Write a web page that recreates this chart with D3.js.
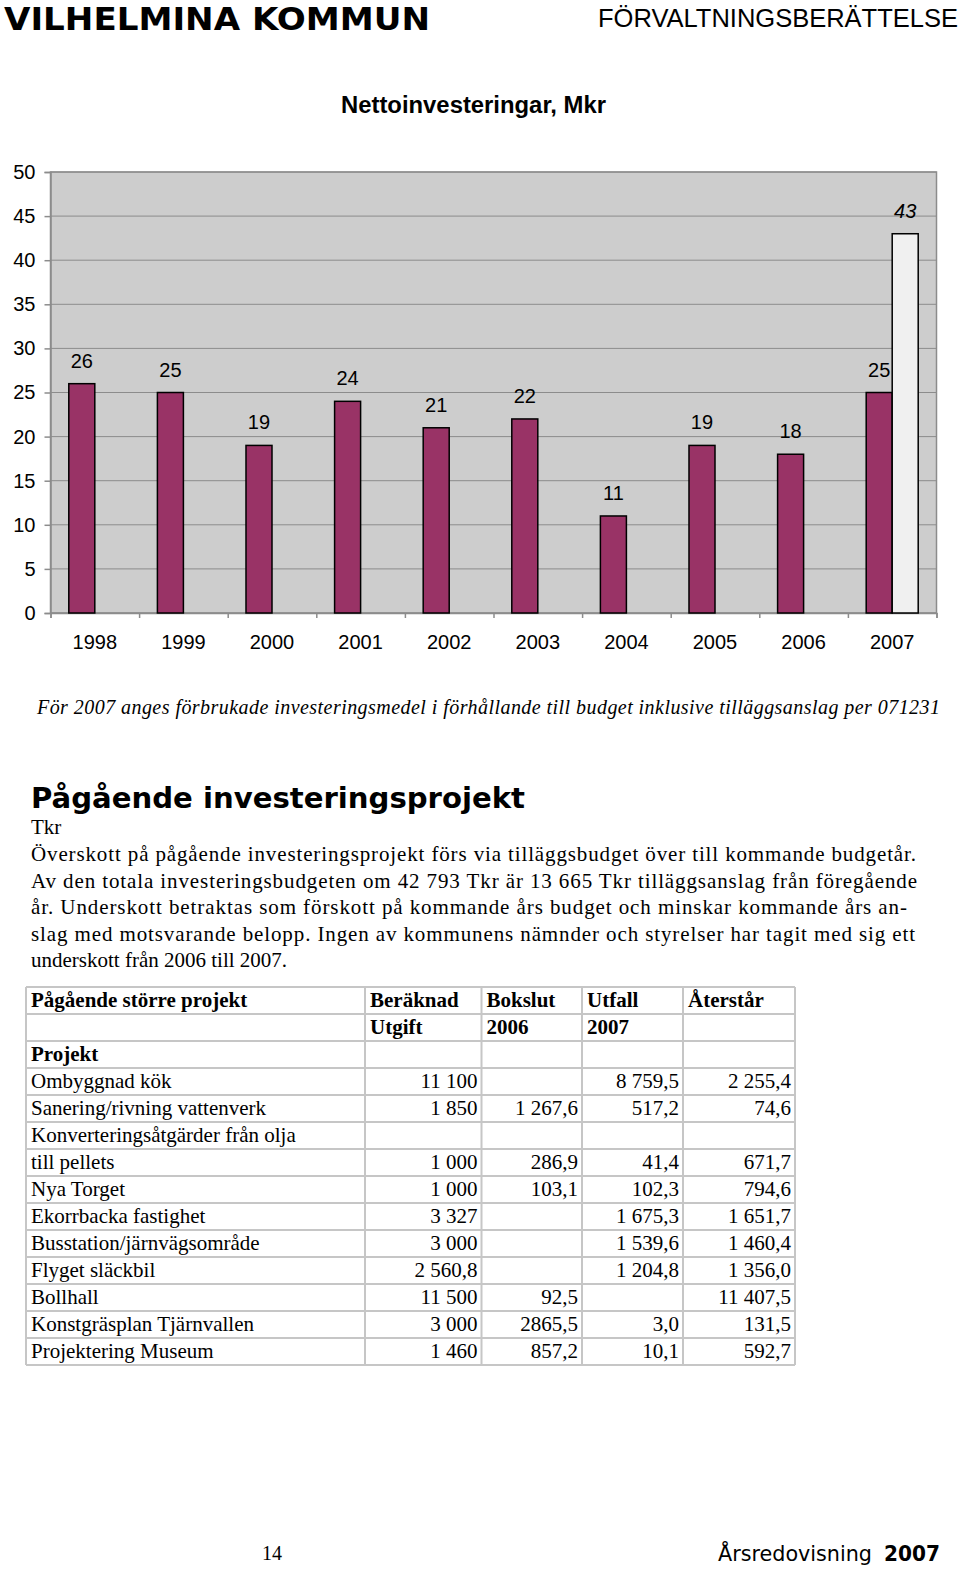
<!DOCTYPE html>
<html>
<head>
<meta charset="utf-8">
<script src="https://cdn.jsdelivr.net/npm/d3@7"></script>
<style>
  html, body { margin: 0; padding: 0; background: #fff; }
  svg { display: block; }
</style>
</head>
<body>
<div id="page"></div>
<script>
// Chart data
const years = ['1998', '1999', '2000', '2001', '2002', '2003', '2004', '2005', '2006', '2007'];
const netto = [26, 25, 19, 24, 21, 22, 11, 19, 18, 25];
const budgetYears = ['2007'];
const budgetValues = [43];
const yTicks = [0, 5, 10, 15, 20, 25, 30, 35, 40, 45, 50];

// Table data
const tableHead1 = ['Pågående större projekt', 'Beräknad', 'Bokslut', 'Utfall', 'Återstår'];
const tableHead2 = ['', 'Utgift', '2006', '2007', ''];
const projectNames = ['Ombyggnad kök', 'Sanering/rivning vattenverk', 'Konverteringsåtgärder från olja',
    'till pellets', 'Nya Torget', 'Ekorrbacka fastighet', 'Busstation/järnvägsområde',
    'Flyget släckbil', 'Bollhall', 'Konstgräsplan Tjärnvallen', 'Projektering Museum'];
const utgift = ['11 100', '1 850', '', '1 000', '1 000', '3 327', '3 000', '2 560,8', '11 500', '3 000', '1 460'];
const bokslut = ['', '1 267,6', '', '286,9', '103,1', '', '', '', '92,5', '2865,5', '857,2'];
const utfall = ['8 759,5', '517,2', '', '41,4', '102,3', '1 675,3', '1 539,6', '1 204,8', '', '3,0', '10,1'];
const aterstar = ['2 255,4', '74,6', '', '671,7', '794,6', '1 651,7', '1 460,4', '1 356,0', '11 407,5', '131,5', '592,7'];

const paragraph = [
    'Överskott på pågående investeringsprojekt förs via tilläggsbudget över till kommande budgetår.',
    'Av den totala investeringsbudgeten om 42 793 Tkr är 13 665 Tkr tilläggsanslag från föregående',
    'år. Underskott betraktas som förskott på kommande års budget och minskar kommande års an-',
    'slag med motsvarande belopp. Ingen av kommunens nämnder och styrelser har tagit med sig ett',
    'underskott från 2006 till 2007.'
];

const W = 960, H = 1569;
const sans = '"Liberation Sans", Arial, sans-serif';
const serif = '"Liberation Serif", "Times New Roman", serif';
const dejavu = '"DejaVu Sans", Verdana, sans-serif';

const svg = d3.select('#page').append('svg')
    .attr('width', W)
    .attr('height', H)
    .attr('viewBox', `0 0 ${W} ${H}`);

// Page header
svg.append('text')
    .attr('x', 4).attr('y', 30)
    .attr('font-family', dejavu).attr('font-weight', 'bold').attr('font-size', 32)
    .attr('textLength', 426).attr('lengthAdjust', 'spacingAndGlyphs')
    .text('VILHELMINA KOMMUN');

svg.append('text')
    .attr('x', 598).attr('y', 27)
    .attr('font-family', sans).attr('font-size', 25)
    .attr('textLength', 360).attr('lengthAdjust', 'spacingAndGlyphs')
    .text('FÖRVALTNINGSBERÄTTELSE');

// Chart title
svg.append('text')
    .attr('x', 341).attr('y', 113)
    .attr('font-family', sans).attr('font-weight', 'bold').attr('font-size', 23)
    .attr('textLength', 265).attr('lengthAdjust', 'spacingAndGlyphs')
    .text('Nettoinvesteringar, Mkr');

// Chart
const plot = { left: 50.5, right: 936.5, top: 172, bottom: 613 };

const y = d3.scaleLinear()
    .domain([0, 50])
    .range([plot.bottom, plot.top]);

const x0 = d3.scaleBand()
    .domain(years)
    .range([plot.left, plot.right])
    .paddingInner(0.413)
    .paddingOuter(0.2065);

const x1 = d3.scaleBand()
    .domain(['netto', 'budget'])
    .range([0, x0.bandwidth()]);

const chart = svg.append('g');

// Plot background
chart.append('rect')
    .attr('x', plot.left).attr('y', plot.top)
    .attr('width', plot.right - plot.left).attr('height', plot.bottom - plot.top)
    .attr('fill', '#cdcdcd')
    .attr('stroke', '#8c8c8c').attr('stroke-width', 1.5);

// Gridlines
chart.append('g')
    .selectAll('line')
    .data(yTicks)
    .enter()
    .append('line')
    .attr('x1', plot.left).attr('x2', plot.right)
    .attr('y1', d => y(d)).attr('y2', d => y(d))
    .attr('stroke', '#8c8c8c').attr('stroke-width', 1);

// Y axis
const yAxis = chart.append('g')
    .attr('transform', `translate(${plot.left},0)`)
    .call(d3.axisLeft(y).tickValues(yTicks).tickSize(6).tickPadding(9));
yAxis.selectAll('text').attr('font-family', sans).attr('font-size', 20).attr('fill', '#000');
yAxis.selectAll('line, path').attr('stroke', '#8c8c8c').attr('stroke-width', 1.5);

// X axis: boundary tick marks
const xb = d3.scaleLinear().domain([0, years.length]).range([plot.left, plot.right]);
const xTickAxis = chart.append('g')
    .attr('transform', `translate(0,${plot.bottom})`)
    .call(d3.axisBottom(xb).tickValues(d3.range(years.length + 1)).tickSize(5).tickFormat(''));
xTickAxis.selectAll('line, path').attr('stroke', '#8c8c8c').attr('stroke-width', 1.5);

// X axis: category labels
const xAxis = chart.append('g')
    .attr('transform', `translate(0,${plot.bottom})`)
    .call(d3.axisBottom(x0).tickSize(0).tickPadding(22));
xAxis.select('.domain').remove();
xAxis.selectAll('text').attr('font-family', sans).attr('font-size', 20).attr('fill', '#000');

// Bars
const nettoData = years.map((yr, i) => ({ year: yr, value: netto[i] }));
const budgetData = budgetYears.map((yr, i) => ({ year: yr, value: budgetValues[i] }));

chart.selectAll('.bar-netto')
    .data(nettoData)
    .enter()
    .append('rect')
    .attr('class', 'bar-netto')
    .attr('x', d => x0(d.year) + x1('netto'))
    .attr('y', d => y(d.value))
    .attr('width', x1.bandwidth())
    .attr('height', d => y(0) - y(d.value))
    .attr('fill', '#993366')
    .attr('stroke', '#000').attr('stroke-width', 1.5);

chart.selectAll('.bar-budget')
    .data(budgetData)
    .enter()
    .append('rect')
    .attr('class', 'bar-budget')
    .attr('x', d => x0(d.year) + x1('budget'))
    .attr('y', d => y(d.value))
    .attr('width', x1.bandwidth())
    .attr('height', d => y(0) - y(d.value))
    .attr('fill', '#f0f0f0')
    .attr('stroke', '#000').attr('stroke-width', 1.5);

// Value labels
chart.selectAll('.label-netto')
    .data(nettoData)
    .enter()
    .append('text')
    .attr('class', 'label-netto')
    .attr('x', d => x0(d.year) + x1('netto') + x1.bandwidth() / 2)
    .attr('y', d => y(d.value) - 16)
    .attr('text-anchor', 'middle')
    .attr('font-family', sans).attr('font-size', 20)
    .text(d => d.value);

chart.selectAll('.label-budget')
    .data(budgetData)
    .enter()
    .append('text')
    .attr('class', 'label-budget')
    .attr('x', d => x0(d.year) + x1('budget') + x1.bandwidth() / 2)
    .attr('y', d => y(d.value) - 16)
    .attr('text-anchor', 'middle')
    .attr('font-family', sans).attr('font-size', 20).attr('font-style', 'italic')
    .text(d => d.value);

// Caption under chart
svg.append('text')
    .attr('x', 37).attr('y', 714)
    .attr('font-family', serif).attr('font-style', 'italic').attr('font-size', 20)
    .attr('textLength', 903).attr('lengthAdjust', 'spacing')
    .text('För 2007 anges förbrukade investeringsmedel i förhållande till budget inklusive tilläggsanslag  per 071231');

// Section heading
svg.append('text')
    .attr('x', 31).attr('y', 808)
    .attr('font-family', dejavu).attr('font-weight', 'bold').attr('font-size', 29)
    .attr('textLength', 494).attr('lengthAdjust', 'spacingAndGlyphs')
    .text('Pågående investeringsprojekt');

svg.append('text')
    .attr('x', 31).attr('y', 834)
    .attr('font-family', serif).attr('font-size', 21)
    .text('Tkr');

// Paragraph (justified lines)
const lineEnds = [916, 917, 907, 915, null];
svg.append('g')
    .selectAll('text')
    .data(paragraph)
    .enter()
    .append('text')
    .attr('x', 31)
    .attr('y', (d, i) => 861 + i * 26.5)
    .attr('font-family', serif).attr('font-size', 21)
    .each(function (d, i) {
        if (lineEnds[i]) {
            d3.select(this).attr('textLength', lineEnds[i] - 31).attr('lengthAdjust', 'spacing');
        }
    })
    .text(d => d);

// Table
const colEdges = [26, 365, 481.5, 582, 683, 795];
const rowTop = 987, rowH = 27;
const rows = [
    { cells: tableHead1, bold: true, head: true },
    { cells: tableHead2, bold: true, head: true },
    { cells: ['Projekt', '', '', '', ''], bold: true, head: true }
].concat(projectNames.map((name, i) => ({
    cells: [name, utgift[i], bokslut[i], utfall[i], aterstar[i]],
    bold: false, head: false
})));

const table = svg.append('g');

table.selectAll('.hline')
    .data(d3.range(rows.length + 1))
    .enter()
    .append('line')
    .attr('x1', colEdges[0]).attr('x2', colEdges[colEdges.length - 1])
    .attr('y1', d => rowTop + d * rowH).attr('y2', d => rowTop + d * rowH)
    .attr('stroke', '#c6c6c6').attr('stroke-width', 2);

table.selectAll('.vline')
    .data(colEdges)
    .enter()
    .append('line')
    .attr('x1', d => d).attr('x2', d => d)
    .attr('y1', rowTop).attr('y2', rowTop + rows.length * rowH)
    .attr('stroke', '#c6c6c6').attr('stroke-width', 2);

rows.forEach((row, r) => {
    row.cells.forEach((cell, c) => {
        if (!cell) return;
        const alignRight = !row.head && c > 0;
        table.append('text')
            .attr('x', alignRight ? colEdges[c + 1] - 4 : colEdges[c] + 5)
            .attr('y', rowTop + r * rowH + 20)
            .attr('text-anchor', alignRight ? 'end' : 'start')
            .attr('font-family', serif).attr('font-size', 21)
            .attr('font-weight', row.bold ? 'bold' : 'normal')
            .text(cell);
    });
});

// Footer
svg.append('text')
    .attr('x', 262).attr('y', 1560)
    .attr('font-family', serif).attr('font-size', 20)
    .text('14');

svg.append('text')
    .attr('x', 718).attr('y', 1561)
    .attr('font-family', dejavu).attr('font-size', 22)
    .attr('textLength', 154).attr('lengthAdjust', 'spacingAndGlyphs')
    .text('Årsredovisning');

svg.append('text')
    .attr('x', 940).attr('y', 1561)
    .attr('text-anchor', 'end')
    .attr('font-family', dejavu).attr('font-weight', 'bold').attr('font-size', 22)
    .attr('textLength', 56).attr('lengthAdjust', 'spacingAndGlyphs')
    .text('2007');
</script>
</body>
</html>
